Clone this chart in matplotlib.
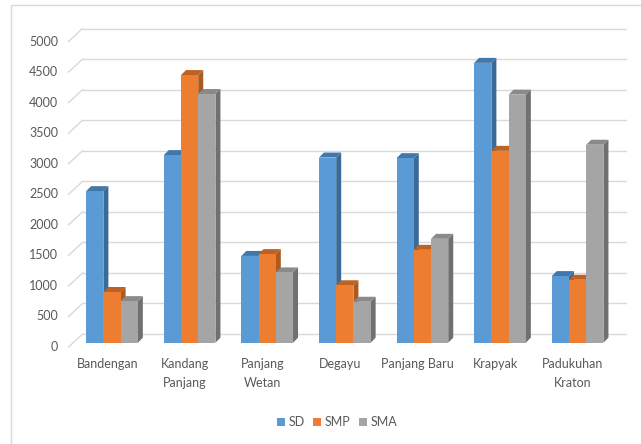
import matplotlib.pyplot as plt
from matplotlib.patches import Polygon, Rectangle
from matplotlib.transforms import ScaledTranslation
import numpy as np

plt.rcParams['font.family'] = ['Lato', 'DejaVu Sans']

kelurahan = ['Bandengan', 'Kandang\nPanjang', 'Panjang\nWetan', 'Degayu',
             'Panjang Baru', 'Krapyak', 'Padukuhan\nKraton']
sd = [2480, 3070, 1420, 3030, 3020, 4580, 1090]
smp = [830, 4380, 1450, 940, 1520, 3140, 1030]
sma = [680, 4070, 1150, 670, 1700, 4060, 3240]
seri = ['SD', 'SMP', 'SMA']
yticks = list(range(0, 5001, 500))

warna_depan = ['#5b9bd5', '#ed7d31', '#a5a5a5']
warna_atas = ['#4177aa', '#bb6224', '#8a8a8a']
warna_sisi = ['#3a6a97', '#ad5a1f', '#707070']
teks = '#595959'
grid = '#d9d9d9'

fig = plt.figure(figsize=(6.41, 4.44), dpi=100)
ax = fig.add_axes([73.2 / 641, 101.3 / 444, 543.2 / 641, 305.5 / 444])
ax.set_xlim(-0.5, 6.5)
ax.set_ylim(0, 5000)
ax.axis('off')


def geser(dx, dy):
    # offset in pixels (dpi 100)
    return ax.transData + ScaledTranslation(dx / 100, dy / 100, fig.dpi_scale_trans)


belakang = geser(9.4, 8.7)
depan = geser(-4.6, -4.3)

# gridlines on the back wall + diagonal on the floor side
for v in yticks:
    ax.plot([-0.5, 6.5], [v, v], color=grid, lw=1, transform=belakang, clip_on=False, zorder=0)
    x0, y0 = depan.transform((-0.5, v))
    x1, y1 = belakang.transform((-0.5, v))
    ax.plot([x0, x1], [y0, y1], color=grid, lw=1, transform=None, clip_on=False, zorder=0)
    ax.text(-0.5, v, str(v), transform=geser(-15, -4.3), ha='right', va='center',
            fontsize=9, color=teks)

# 3D-looking bars
lebar = 0.222
dx_px, dy_px = 5, 5
x = np.arange(len(kelurahan))
px_per_x = 543.2 / 7
px_per_y = 305.5 / 5000
ddx = dx_px / px_per_x
ddy = dy_px / px_per_y
for i, data in enumerate([sd, smp, sma]):
    for xi, v in zip(x, data):
        kiri = xi + (i - 1.5) * lebar
        kanan = kiri + lebar
        sisi = Polygon([(kanan, 0), (kanan + ddx, ddy), (kanan + ddx, v + ddy), (kanan, v)],
                       closed=True, facecolor=warna_sisi[i], edgecolor='none', zorder=2 + i)
        atas = Polygon([(kiri, v), (kiri + ddx, v + ddy), (kanan + ddx, v + ddy), (kanan, v)],
                       closed=True, facecolor=warna_atas[i], edgecolor='none', zorder=2 + i)
        ax.add_patch(sisi)
        ax.add_patch(atas)
    ax.bar(x + (i - 1) * lebar, data, width=lebar, color=warna_depan[i], zorder=2 + i,
           label=seri[i])
    for p in ax.patches:
        p.set_clip_on(False)

for xi, nama in zip(x, kelurahan):
    ax.text(xi, 0, nama, transform=geser(-4.6, -15), ha='center', va='top',
            fontsize=9, color=teks, linespacing=1.75)

leg = fig.legend(loc='center', bbox_to_anchor=(337 / 641, 1 - 422 / 444), ncol=3,
                 frameon=False, fontsize=9, handlelength=0.6, handleheight=0.6,
                 handletextpad=0.3, columnspacing=0.7)
for t in leg.get_texts():
    t.set_color(teks)

# chart border
fig.add_artist(Rectangle((10.5 / 641, -0.1), 1.2, 1 - 5.5 / 444 + 0.1, transform=fig.transFigure,
                         fill=False, edgecolor='#d9d9d9', lw=1))

fig.savefig('out.png', dpi=100)
